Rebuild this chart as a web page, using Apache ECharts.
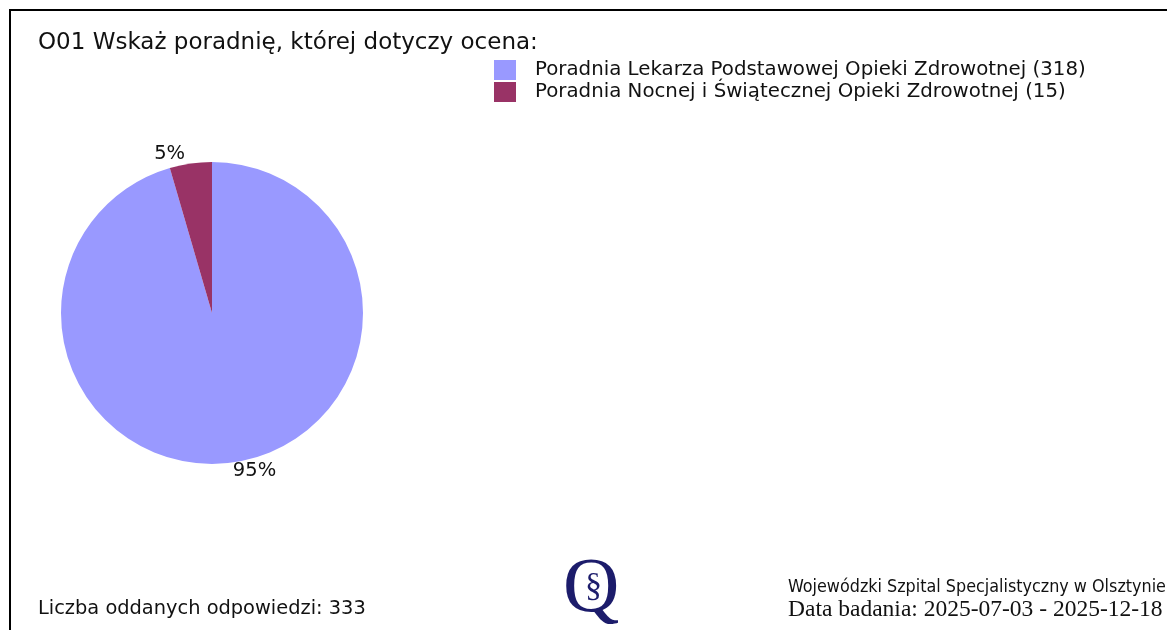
<!DOCTYPE html>
<html>
<head>
<meta charset="utf-8">
<script src="https://cdn.jsdelivr.net/npm/echarts@6/dist/echarts.min.js"></script>
<style>
  html, body { margin: 0; padding: 0; background: #fff; }
  #chart { width: 1167px; height: 630px; }
</style>
</head>
<body>
<div id="chart"></div>
<script>
var categories = [
  'Poradnia Lekarza Podstawowej Opieki Zdrowotnej',
  'Poradnia Nocnej i Świątecznej Opieki Zdrowotnej'
];
var counts = [318, 15];
var colors = ['#9999ff', '#993366'];
var total = 333;

var chart = echarts.init(document.getElementById('chart'));
var font = 'DejaVu Sans';

var pieData = categories.map(function (name, i) {
  return { name: name, value: counts[i], itemStyle: { color: colors[i] } };
});

var option = {
  backgroundColor: '#fff',
  animation: false,
  title: {
    text: 'O01 Wskaż poradnię, której dotyczy ocena:',
    left: 38,
    top: 32,
    padding: 0,
    textStyle: { fontFamily: font, fontSize: 23, fontWeight: 'normal', color: '#111' }
  },
  legend: {
    orient: 'vertical',
    left: 494,
    top: 60,
    padding: 0,
    itemWidth: 22,
    itemHeight: 20,
    itemGap: 2,
    icon: 'rect',
    selectedMode: false,
    data: categories,
    formatter: function (name) {
      return name + ' (' + counts[categories.indexOf(name)] + ')';
    },
    textStyle: { fontFamily: font, fontSize: 19.8, color: '#111', padding: [0, 0, 0, 14] }
  },
  graphic: [
    { type: 'line', shape: { x1: 9, y1: 10, x2: 1167, y2: 10 }, style: { stroke: '#000', lineWidth: 2 } },
    { type: 'line', shape: { x1: 10, y1: 9, x2: 10, y2: 630 }, style: { stroke: '#000', lineWidth: 2 } },
    {
      type: 'text', left: 38, top: 599,
      style: { text: 'Liczba oddanych odpowiedzi: ' + total, fontFamily: font, fontSize: 19.4, fill: '#111' }
    },
    {
      type: 'text', left: 788, top: 578,
      style: { text: 'Wojewódzki Szpital Specjalistyczny w Olsztynie', fontFamily: 'DejaVu Sans Condensed', fontSize: 17.8, fill: '#111' }
    },
    {
      type: 'text', left: 788, top: 598,
      style: { text: 'Data badania: 2025-07-03 - 2025-12-18', fontFamily: 'Liberation Serif', fontSize: 23.5, fill: '#111' }
    },
    {
      type: 'text', left: 563, top: 552,
      style: { text: 'Q', fontFamily: 'Liberation Serif', fontSize: 78, fill: '#1c1c6b' }
    },
    {
      type: 'text', left: 585, top: 570,
      style: { text: '§', fontFamily: 'Liberation Serif', fontSize: 34, fill: '#1c1c6b' }
    }
  ],
  series: [{
    type: 'pie',
    center: [212, 313],
    radius: 151,
    startAngle: 90,
    clockwise: true,
    percentPrecision: 0,
    label: {
      show: true,
      position: 'outside',
      formatter: '{d}%',
      fontFamily: font,
      fontSize: 19.5,
      color: '#111'
    },
    labelLine: { show: false, length: 4, length2: 0 },
    labelLayout: function (params) {
      return params.dataIndex === 0 ? { dx: -6, dy: 4 } : { dy: -6 };
    },
    emphasis: { disabled: true },
    data: pieData
  }]
};
chart.setOption(option);
</script>
</body>
</html>
